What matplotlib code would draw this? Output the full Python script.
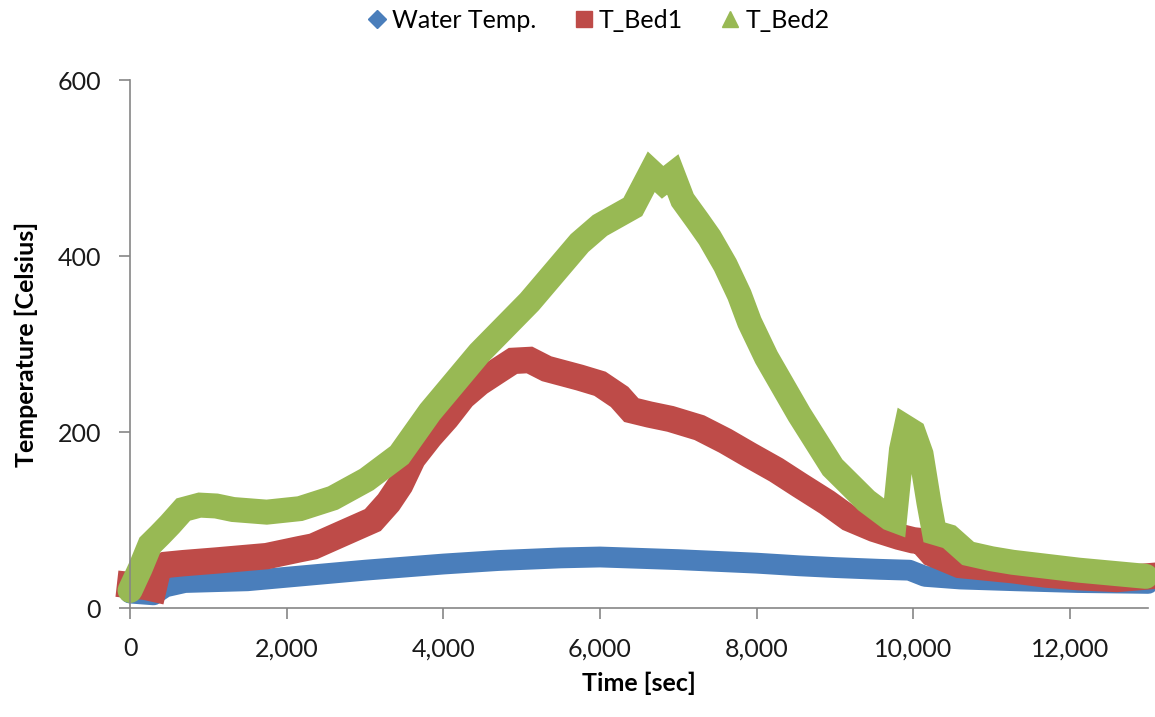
import matplotlib
matplotlib.use('Agg')
import matplotlib.pyplot as plt
from matplotlib.lines import Line2D
from matplotlib.ticker import FuncFormatter

# Temperature readings over the run
water_t = [0, 300, 450, 700, 1500, 2000, 3000, 4000, 4700, 5500, 6000, 7000,
           8000, 8545, 9000, 9570, 9950, 10150, 10600, 11300, 12100, 13000]
water_T = [17, 15, 24, 29, 31, 35, 43, 50, 54, 57, 58, 55,
           51, 48, 46, 44, 43, 36, 33, 31, 29, 28]

bed1_t = [0, 200, 300, 360, 450, 680, 1100, 1745, 2170, 2340, 2770, 3100, 3300, 3450,
          3610, 3830, 4040, 4250, 4460, 4700, 4890, 5100, 5320, 5740, 6000, 6250,
          6400, 6630, 6900, 7270, 7600, 7910, 8250, 8545, 8900, 9180, 9500, 9820,
          10000, 10100, 10240, 10590, 11270, 11700, 12120, 12600, 13000]
bed1_T = [26, 24, 22, 45, 49, 51, 54, 59, 67, 70, 87, 100, 120, 140,
          170, 195, 216, 240, 256, 270, 281, 282, 272, 262, 255, 240,
          225, 220, 215, 205, 190, 174, 157, 140, 120, 102, 90, 81,
          77, 76, 62, 49, 43, 38, 35, 33, 36]

bed2_t = [0, 130, 255, 380, 510, 680, 890, 1100, 1315, 1745, 2170, 2590, 3020, 3440,
          3830, 4460, 5100, 5740, 6000, 6420, 6655, 6800, 6930, 7055, 7250, 7400,
          7600, 7780, 7910, 8125, 8545, 8970, 9400, 9700, 9760, 9850, 9910, 10000,
          10100, 10200, 10270, 10460, 10700, 11000, 11270, 12120, 12970]
bed2_T = [20, 45, 72, 83, 95, 112, 117, 116, 112, 109, 113, 125, 146, 174,
          223, 290, 348, 415, 435, 456, 496, 484, 493, 464, 440, 421,
          390, 356, 325, 285, 220, 160, 122, 102, 100, 180, 205, 200,
          175, 120, 86, 81, 62, 56, 52, 43, 36]

blue = '#4A7EBB'
red = '#BE4B48'
green = '#98B954'
axis_grey = '#868686'

plt.rcParams['font.family'] = ['Lato', 'DejaVu Sans']

fig = plt.figure(figsize=(11.55, 7.17), dpi=100)
ax = fig.add_axes([0.1126, 0.152, 0.8815, 0.736])

# thick strokes stand in for the densely packed markers of each series
ax.plot(water_t, water_T, color=blue, lw=15, solid_joinstyle='round',
        solid_capstyle='round', clip_on=False)
ax.plot(bed1_t, bed1_T, color=red, lw=19, solid_joinstyle='miter',
        solid_capstyle='projecting', clip_on=False)
ax.plot(bed2_t, bed2_T, color=green, lw=18, solid_joinstyle='miter',
        solid_capstyle='round', clip_on=False)

ax.set_xlim(0, 13000)
ax.set_ylim(0, 600)
ax.set_xticks(range(0, 13000, 2000))
ax.set_yticks([0, 200, 400, 600])
ax.xaxis.set_major_formatter(FuncFormatter(lambda v, p: f'{int(v):,}'))

for side in ['top', 'right']:
    ax.spines[side].set_visible(False)
for side in ['left', 'bottom']:
    ax.spines[side].set_color(axis_grey)
    ax.spines[side].set_linewidth(1.2)
ax.tick_params(axis='both', direction='out', length=8, width=1.2, color=axis_grey,
               labelsize=18, labelcolor='#1a1a1a', pad=13)

ax.set_xlabel('Time [sec]', fontsize=18, fontweight='bold', labelpad=8)
ax.set_ylabel('Temperature [Celsius]', fontsize=18, fontweight='bold', labelpad=14)

handles = [
    Line2D([], [], linestyle='none', marker='D', markersize=9, color=blue),
    Line2D([], [], linestyle='none', marker='s', markersize=11, color=red),
    Line2D([], [], linestyle='none', marker='^', markersize=12, color=green),
]
fig.legend(handles, ['Water Temp.', 'T_Bed1', 'T_Bed2'], loc='center',
           bbox_to_anchor=(597 / 1155, 1 - 20 / 717), ncol=3, frameon=False,
           fontsize=18, handletextpad=0.1, columnspacing=1.4, handlelength=1.0)

plt.savefig('out.png', dpi=100)
